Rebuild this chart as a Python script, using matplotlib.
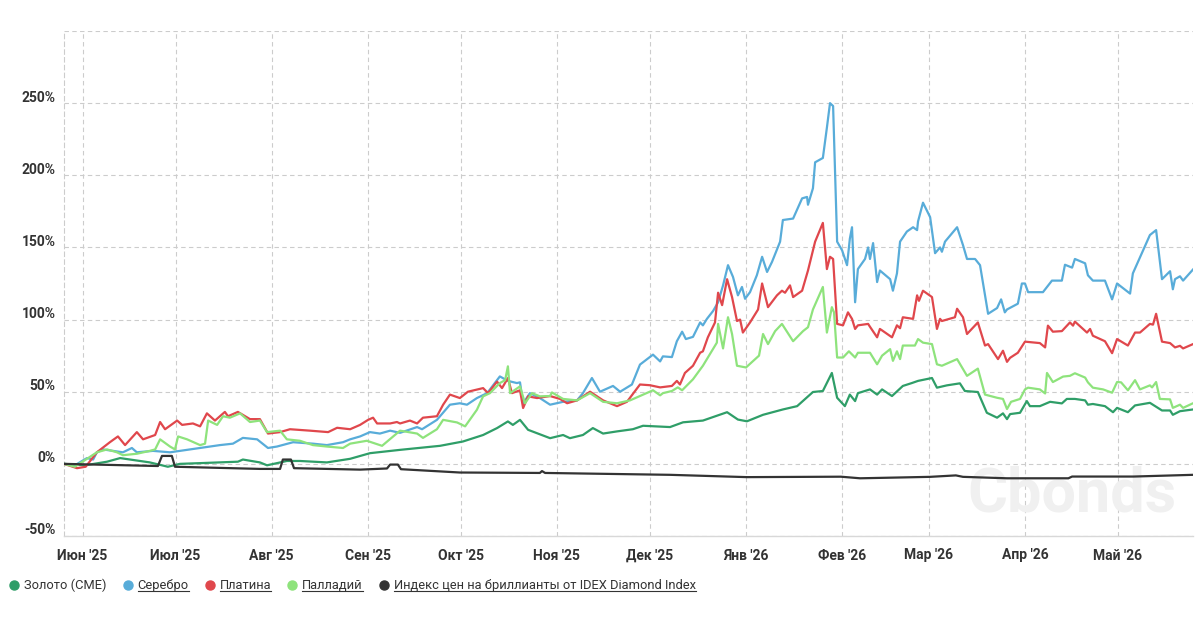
import matplotlib
matplotlib.use("Agg")
import matplotlib.pyplot as plt
import matplotlib.transforms as mtransforms
from matplotlib.lines import Line2D
import numpy as np
import pandas as pd

plt.rcParams['font.family'] = ['Roboto', 'DejaVu Sans']

start = pd.Timestamp("2025-05-26")

# day offsets from start, % change
gold_days = [0, 6.8, 13.9, 18.1, 24.5, 27.7, 33.5, 37.4, 43.9, 56.1, 57.7, 63.2, 65.5, 71.9, 76.1, 84.8,
             92.3, 98.7, 108.4, 121.3, 128.7, 135.2, 139.7, 143.2, 144.8, 147.1, 149.7, 156.8, 161.0, 163.2,
             167.4, 170.6, 173.9, 178.4, 183.5, 186.8, 195.5, 199.7, 206.1, 213.9, 217.4, 220.3, 225.5, 231.9,
             236.5, 241.6, 244.8, 247.7, 249.4, 251.9, 253.5, 255.2, 256.1, 260.0, 262.3, 263.9, 267.1, 270.6,
             273.5, 275.5, 280.0, 281.6, 284.8, 289.0, 290.6, 294.8, 297.7, 301.0, 302.9, 304.2, 305.2, 308.4,
             310.6, 311.6, 314.8, 318.1, 321.9, 323.5, 326.1, 329.4, 330.3, 331.9, 335.8, 338.4, 339.7, 343.2,
             345.5, 350.3, 354.2, 356.8, 357.7, 360.0, 364.2]
gold_vals = [0, -1, 1.5, 4, 2, 1, -2, 0, 0.5, 1.5, 3, 1, -1, 2, 2, 1,
             3.5, 7.4, 9.7, 12.5, 15.5, 20, 24.8, 29.4, 27, 30.5, 23.6, 17.8, 20, 17.8,
             20, 24.8, 21, 22.5, 24, 26.4, 25.5, 28.8, 30, 35.8, 30.7, 29.5, 34, 37.7,
             40, 49.8, 50.5, 63, 45.8, 40, 48, 43.5, 49, 51.6, 48, 51.6, 47, 54,
             56, 57.5, 59.5, 52.8, 54.4, 55.8, 50.5, 49.8, 35.4, 32, 35, 31, 34.5, 35.4,
             43.5, 40, 40, 43, 41.9, 45, 45, 44, 41, 41.5, 40, 35.8, 38.8, 35.8,
             40.5, 42.3, 37, 37, 34, 36.5, 37.7]

silver_days = [0, 3.5, 7.4, 9.4, 10.6, 12.6, 19.0, 21.9, 23.5, 28.7, 34.2, 43.9, 50.3, 54.5, 57.7, 62.3,
               65.8, 68.7, 73.9, 80.3, 84.8, 90.0, 92.3, 95.5, 98.7, 101.9, 105.2, 108.4, 113.9, 115.5,
               120.3, 124.5, 127.7, 130.0, 133.2, 136.5, 140.6, 143.2, 146.1, 147.1, 148.1, 150.3, 153.5,
               156.8, 161.0, 165.5, 167.4, 170.3, 172.9, 177.1, 179.4, 183.2, 185.8, 190.0, 192.3, 193.2,
               196.1, 197.7, 199.4, 200.6, 202.9, 205.2, 206.1, 207.4, 209.4, 211.0, 212.6, 214.2, 215.8,
               217.4, 218.7, 219.7, 221.3, 223.5, 225.2, 226.8, 228.4, 231.0, 231.9, 235.2, 238.1, 239.7,
               240.0, 241.6, 242.3, 244.8, 246.1, 247.1, 248.1, 249.4, 251.0, 252.6, 253.5, 254.2, 255.2,
               256.1, 258.4, 259.4, 260.0, 261.0, 262.3, 263.2, 266.5, 267.4, 268.7, 269.7, 271.9, 273.9,
               275.2, 275.5, 277.1, 279.4, 281.0, 282.6, 283.2, 284.2, 288.1, 290.0, 291.3, 293.9, 295.5,
               298.1, 301.0, 302.3, 303.5, 304.2, 307.7, 309.0, 310.0, 311.0, 315.8, 318.7, 321.9, 322.9,
               325.2, 326.1, 329.4, 330.3, 331.9, 335.8, 338.1, 339.7, 343.9, 344.8, 350.3, 352.3, 354.2,
               356.8, 357.7, 358.4, 360.0, 361.0, 364.2]
silver_vals = [0, -1, 4, 3, 8, 10, 8, 11, 8, 9, 8, 11, 13, 14, 18, 17,
               11, 12, 15, 14, 13, 15, 17, 19, 22, 21, 23, 21.5, 25.5, 24,
               30.5, 41, 42, 41, 45.6, 49, 60.6, 57.5, 56, 56.5, 42, 49, 45.6,
               41, 43, 44, 49, 59.5, 50, 54, 50, 55, 68.8, 75.7, 71, 74.5,
               74, 85, 91.6, 86.5, 88, 98, 96, 100.5, 106, 112, 123.7, 137.7, 129.6,
               116.8, 122.6, 114.4, 119, 130.7, 143.5, 133, 140, 154, 169, 170, 184, 185,
               179.6, 191, 209, 212, 233, 250, 248, 154, 148, 137.7, 156, 164, 112,
               135, 142, 150, 142, 153, 126, 134, 128, 120, 132, 154, 161, 164,
               162, 168, 181, 171, 146, 150, 147, 154, 164, 151.6, 142, 142, 137.7,
               104, 108, 114, 105, 107, 111, 125, 125, 119, 119, 127, 127, 138,
               136, 142, 139, 130.7, 127, 127, 114, 125, 118, 132, 158.6, 162, 128,
               133.5, 121, 128, 130, 127, 134.7]

platinum_days = [0, 4.2, 7.0, 10.6, 14.8, 17.4, 19.7, 23.5, 25.5, 29.4, 31.0, 32.6, 36.5, 38.1, 41.6, 43.9,
                 46.1, 48.7, 51.9, 52.9, 56.1, 60.0, 63.2, 65.8, 69.7, 72.9, 79.4, 85.2, 88.1, 92.3, 95.5,
                 98.1, 99.7, 101.0, 105.2, 107.4, 108.4, 111.6, 113.9, 115.8, 120.3, 122.3, 124.5, 127.7,
                 130.3, 135.2, 136.8, 139.7, 141.3, 143.2, 144.5, 147.1, 148.1, 149.7, 152.6, 156.8, 160.0,
                 162.3, 165.5, 169.7, 173.9, 178.4, 181.6, 185.8, 189.0, 192.3, 196.1, 197.7, 198.7, 200.3,
                 202.9, 205.2, 206.1, 207.7, 210.0, 211.0, 212.3, 213.9, 215.5, 217.1, 218.1, 219.0, 221.3,
                 223.9, 225.2, 227.1, 230.0, 231.6, 232.6, 234.2, 235.2, 238.1, 240.0, 242.3, 244.8, 246.1,
                 247.1, 248.1, 249.4, 251.3, 252.9, 254.2, 255.2, 256.1, 259.4, 260.0, 262.3, 263.2, 263.9,
                 267.1, 268.7, 269.7, 270.6, 273.9, 275.2, 275.8, 277.1, 280.0, 281.6, 282.6, 283.2, 287.4,
                 288.1, 290.0, 291.3, 294.8, 297.1, 298.1, 301.3, 302.9, 304.2, 305.2, 307.7, 310.0, 314.8,
                 316.5, 317.4, 319.0, 321.9, 324.5, 325.5, 326.1, 330.0, 331.0, 331.9, 335.8, 338.1, 339.7,
                 343.2, 345.5, 347.1, 350.3, 351.3, 352.3, 354.2, 356.8, 358.4, 360.0, 361.0, 364.2]
platinum_vals = [0, -3, -2, 8, 15, 19, 13, 22, 17, 20, 29, 24, 30, 27, 28, 26,
                 35, 30, 36, 33, 36, 31, 31, 21, 22, 24, 23, 22, 25, 24, 27,
                 30.5, 32, 28, 28, 29, 28, 30, 28, 32, 33, 41, 48, 45.6,
                 50, 52.5, 49, 57, 52.5, 59.5, 49, 51, 38.7, 46.8, 45.6, 47, 45,
                 42, 44, 50, 44, 40, 43, 55, 54.5, 53, 54, 57.5, 55, 63,
                 68, 77, 78, 87.7, 98, 118.6, 110, 128, 115.6, 99, 100, 91, 98,
                 107, 125, 108.6, 116.8, 120, 118.6, 123.7, 115.6, 120, 134, 154, 167, 135,
                 143.5, 142, 97, 96, 105, 100.5, 93.5, 96, 97, 95, 87.7, 93.5, 92.5,
                 87.7, 96, 94, 101.6, 100.5, 116.8, 113, 120, 115.6, 93.5, 100.5, 99, 101.6,
                 107.5, 101.6, 90, 98, 82, 83, 72.6, 78.4, 70.7, 73.5, 77, 84.7, 83.7,
                 80.7, 95.8, 91.6, 92, 98, 95.8, 98.6, 91, 93.5, 88.8, 85, 76.7, 86.5,
                 82, 91, 91, 97, 96.5, 104, 84.7, 83.7, 80.7, 81.8, 80, 83]

palladium_days = [0, 3.5, 10.6, 13.9, 17.1, 19.0, 23.5, 27.7, 29.4, 31.0, 34.2, 35.8, 36.8, 39.7, 43.9, 45.5,
                  46.5, 49.4, 51.3, 53.5, 56.8, 60.0, 63.2, 65.5, 69.7, 71.9, 76.1, 80.3, 84.8, 90.0, 92.3,
                  97.7, 102.6, 108.4, 113.9, 115.8, 120.3, 122.3, 126.8, 129.4, 133.2, 135.2, 137.4, 140.6,
                  142.3, 143.2, 143.9, 147.1, 148.7, 151.0, 153.5, 156.8, 157.4, 161.0, 165.5, 169.7, 173.9,
                  178.4, 182.6, 186.8, 190.0, 192.3, 193.2, 196.1, 198.0, 199.4, 202.9, 206.1, 210.6, 211.0,
                  212.6, 214.2, 215.5, 217.1, 220.0, 224.2, 225.5, 227.1, 229.4, 231.6, 235.2, 238.4, 240.0,
                  241.6, 244.8, 246.1, 247.7, 248.4, 249.4, 251.3, 253.2, 255.2, 256.1, 260.0, 262.3, 263.9,
                  266.5, 267.4, 268.7, 269.7, 270.6, 274.5, 275.5, 277.1, 280.0, 281.6, 283.2, 288.1, 291.3,
                  294.8, 297.1, 301.0, 302.9, 304.2, 305.5, 308.4, 310.0, 311.0, 314.8, 316.5, 317.1, 319.0,
                  322.3, 324.5, 326.1, 329.4, 330.3, 331.9, 335.2, 338.1, 339.7, 341.0, 343.2, 345.5, 347.1,
                  350.3, 351.0, 352.3, 353.5, 356.8, 357.7, 360.0, 361.0, 364.2]
palladium_vals = [0, -2, 8, 10, 8, 6, 7, 9, 10, 17, 12, 10, 19, 17, 13, 14,
                  30, 27, 33, 32, 35, 29, 30, 22, 23, 17, 16, 13, 12, 11, 14,
                  16, 12.5, 23, 21, 18, 24, 30.5, 28.7, 26, 37.5, 46.8, 49, 56,
                  58, 67.6, 49, 53.7, 42, 49, 46.8, 47, 49.5, 45, 44, 49, 43,
                  42, 44, 48, 51, 47.5, 49, 50.5, 53, 51, 58.6, 68, 84, 97,
                  80, 101.6, 90, 68, 66.8, 75, 90, 83, 92, 97, 85, 92, 94.7,
                  107, 122.6, 91, 108.6, 105, 73.7, 73.7, 78, 73.7, 77, 77, 69, 75,
                  79.5, 71.4, 78, 72.6, 82, 82, 86.5, 84, 83, 69, 68, 72.6, 61,
                  66, 48, 45.8, 45, 38, 43, 45, 51.6, 52.8, 51.6, 48.8, 63, 56.7,
                  60.5, 61, 62.8, 59.8, 56.5, 52.8, 51.6, 49.3, 56.7, 56.5, 51, 58, 51.6,
                  54.4, 53, 56.7, 45, 44.7, 38.8, 41, 38.8, 42]

diamond_days = [0, 30.3, 31.6, 34.8, 35.8, 63.2, 69.7, 70.6, 73.2, 74.2, 95.5, 104.2, 105.2, 107.7, 108.7,
                127.7, 153.5, 154.2, 155.2, 195.5, 220.3, 250.6, 256.8, 270.6, 279.4, 287.7, 290.0, 304.2,
                324.0, 325.2, 345.0, 364.2]
diamond_vals = [0, -1.5, 5.5, 5.5, -2, -3.5, -3.5, 3, 3, -3, -4, -3.2, -0.5, -0.5, -3.7,
                -6, -6.3, -5, -6.3, -7.6, -9.2, -8.9, -10, -9.4, -9, -8, -9, -10,
                -10, -8.8, -8.8, -7.6]

series_names = ["Золото (CME)", "Серебро", "Платина", "Палладий",
                "Индекс цен на бриллианты от IDEX Diamond Index"]
series_colors = ["#2f9e68", "#58acd9", "#e0474c", "#8ee37c", "#333333"]
underlined = [False, True, True, True, True]

month_names = ["Июн", "Июл", "Авг", "Сен", "Окт", "Ноя", "Дек", "Янв", "Фев", "Мар", "Апр", "Май"]
y_ticks = [-50, 0, 50, 100, 150, 200, 250, 300]

series_days = [gold_days, silver_days, platinum_days, palladium_days, diamond_days]
series_vals = [gold_vals, silver_vals, platinum_vals, palladium_vals, diamond_vals]

fig = plt.figure(figsize=(12.03, 6.17), dpi=100)
ax = fig.add_axes([64 / 1203, 1 - 536 / 617, (1193 - 64) / 1203, (536 - 31) / 617])

for i, (days, vals) in enumerate(zip(series_days, series_vals)):
    dates = start + pd.to_timedelta(np.array(days), unit="D")
    ax.plot(dates, vals, color=series_colors[i], lw=1.6, zorder=3 + i, solid_joinstyle="round")

ax.set_xlim(start, start + pd.Timedelta(days=364.2))
ax.set_ylim(-50, 300)

month_ticks = pd.date_range("2025-06-01", periods=12, freq="MS")
ax.set_xticks(month_ticks)
ax.set_xticklabels([f"{m} '{d.year % 100}" for m, d in zip(month_names, month_ticks)],
                   fontsize=10, fontweight="bold", color="#333333")
ax.set_yticks(y_ticks)
ax.set_yticklabels([f"{v}%" if v < 300 else "" for v in y_ticks],
                   fontsize=10, fontweight="bold", color="#333333")
ax.tick_params(axis="both", length=0)
ax.tick_params(axis="x", pad=9)
ax.tick_params(axis="y", pad=6)
shift = mtransforms.ScaledTranslation(0, 7 / 100, fig.dpi_scale_trans)
for lab in ax.get_yticklabels():
    lab.set_transform(lab.get_transform() + shift)

ax.grid(True, which="major", axis="both", linestyle=(0, (4, 3)), color="#cccccc", lw=0.8)
ax.set_axisbelow(True)
for s in ["top", "right"]:
    ax.spines[s].set_visible(False)
ax.spines["left"].set_linestyle((0, (4, 3)))
ax.spines["left"].set_color("#cccccc")
ax.spines["left"].set_linewidth(0.8)
ax.spines["bottom"].set_color("#d8d8d8")
ax.spines["bottom"].set_linewidth(1)

# watermark
ax.text(0.985, 0.025, "Cbonds", transform=ax.transAxes, ha="right", va="bottom",
        fontsize=44, fontweight="bold", color="#f0f0f0", zorder=1)

# legend drawn by hand
fig.canvas.draw()
renderer = fig.canvas.get_renderer()
x_px = 14
base_px = 589
for name, color, ul in zip(series_names, series_colors, underlined):
    fig.add_artist(Line2D([x_px / 1203], [1 - 584.5 / 617], marker="o", markersize=6.5,
                          color=color, linestyle="none"))
    t = fig.text((x_px + 10) / 1203, 1 - base_px / 617, name, fontsize=9.3, color="#333333",
                 va="baseline", ha="left")
    bb = t.get_window_extent(renderer)
    if ul:
        yb = 1 - (base_px + 1.5) / 617
        fig.add_artist(Line2D([bb.x0 / 1203, bb.x1 / 1203], [yb, yb],
                              color="#333333", lw=0.8))
    x_px = bb.x1 + 21

fig.savefig("out.png", dpi=100)
plt.close(fig)
